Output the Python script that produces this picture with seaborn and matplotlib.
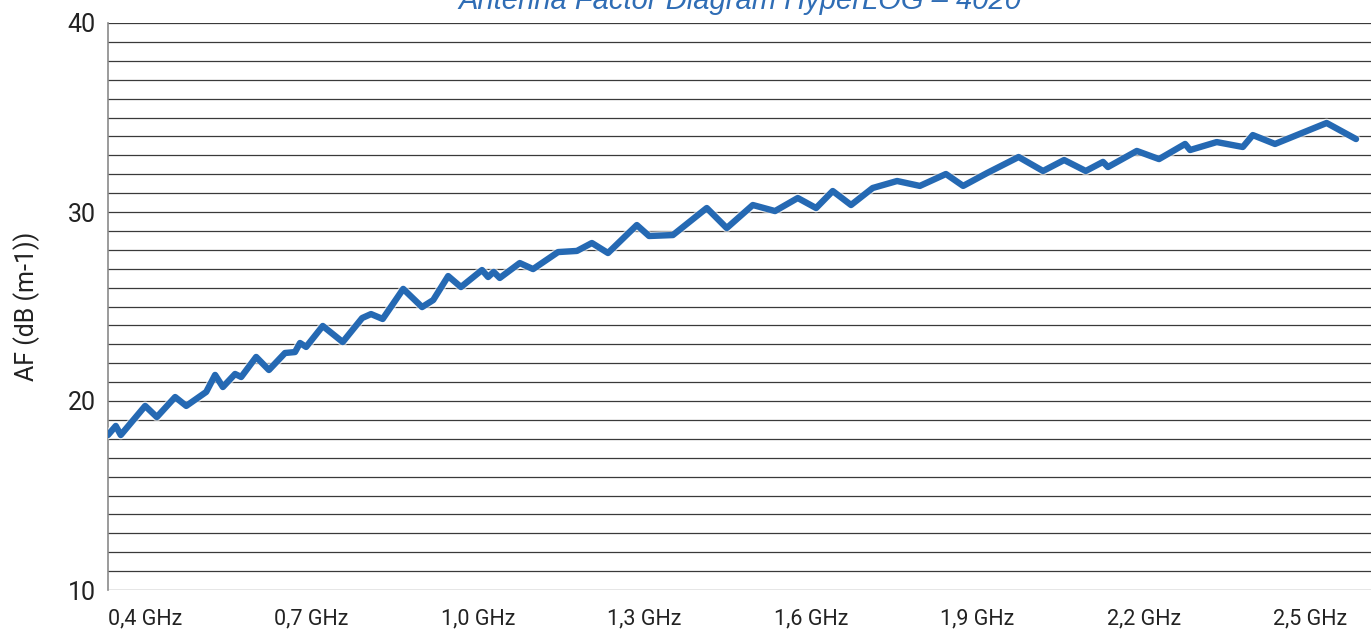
import numpy as np
import pandas as pd
import seaborn as sns
import matplotlib.pyplot as plt
import matplotlib.patheffects as pe

# --- data (frequency in GHz, AF in dB(1/m)) ---
freq_ghz = [0.400, 0.414, 0.423, 0.467, 0.488, 0.521, 0.541, 0.577, 0.593, 0.607,
            0.629, 0.640, 0.667, 0.690, 0.719, 0.737, 0.746, 0.757, 0.787, 0.823,
            0.858, 0.874, 0.895, 0.932, 0.966, 0.986, 1.013, 1.036, 1.074, 1.085,
            1.095, 1.106, 1.142, 1.166, 1.211, 1.245, 1.272, 1.301, 1.353, 1.375,
            1.418, 1.479, 1.515, 1.562, 1.602, 1.643, 1.676, 1.706, 1.739, 1.778,
            1.822, 1.863, 1.910, 1.941, 1.984, 2.041, 2.085, 2.123, 2.162, 2.193,
            2.202, 2.254, 2.294, 2.341, 2.350, 2.398, 2.445, 2.463, 2.503, 2.596,
            2.649]
af_db = [18.20, 18.68, 18.20, 19.74, 19.15, 20.21, 19.74, 20.48, 21.38, 20.74,
         21.43, 21.27, 22.33, 21.64, 22.54, 22.59, 23.07, 22.86, 23.97, 23.12,
         24.39, 24.60, 24.34, 25.93, 24.97, 25.34, 26.61, 26.03, 26.93, 26.56,
         26.83, 26.51, 27.30, 26.98, 27.88, 27.94, 28.36, 27.83, 29.31, 28.73,
         28.78, 30.21, 29.15, 30.37, 30.05, 30.74, 30.21, 31.11, 30.37, 31.27,
         31.64, 31.38, 32.01, 31.38, 32.06, 32.91, 32.17, 32.75, 32.17, 32.65,
         32.38, 33.23, 32.80, 33.60, 33.28, 33.70, 33.44, 34.07, 33.60, 34.71,
         33.86]

x_ticks = [0.4, 0.7, 1.0, 1.3, 1.6, 1.9, 2.2, 2.5]
x_labels = ["0,4 GHz", "0,7 GHz", "1,0 GHz", "1,3 GHz",
            "1,6 GHz", "1,9 GHz", "2,2 GHz", "2,5 GHz"]
y_ticks = [10, 20, 30, 40]

df = pd.DataFrame({"freq": freq_ghz, "af": af_db})

sns.set_style("white")
plt.rcParams["font.family"] = ["Roboto", "DejaVu Sans"]

fig = plt.figure(figsize=(13.71, 6.30), dpi=100)
ax = fig.add_axes([108 / 1371, 40 / 630, 1 - 108 / 1371, 567 / 630])

sns.lineplot(data=df, x="freq", y="af", ax=ax, color="#2569b3", linewidth=4.6,
             solid_joinstyle="round", solid_capstyle="round", zorder=3,
             path_effects=[pe.Stroke(linewidth=6.5, foreground="white", alpha=0.6),
                           pe.Normal()])

ax.set_xlim(0.4, 2.676)
ax.set_ylim(10, 40)

# grid every 1 dB
ax.set_yticks(y_ticks)
ax.set_yticks(np.arange(10, 41, 1), minor=True)
ax.grid(which="both", axis="y", color="#3a3a3a", linewidth=0.9)
ax.grid(False, axis="x")
ax.tick_params(axis="y", which="both", length=0, labelsize=18, colors="#222222", pad=9)

ax.set_xticks(x_ticks)
ax.set_xticklabels(x_labels, ha="left")
ax.tick_params(axis="x", length=0, labelsize=15.5, colors="#222222", pad=13)

for s in ["top", "right", "bottom"]:
    ax.spines[s].set_visible(False)
ax.spines["left"].set_color("#8a8a8a")
ax.spines["left"].set_linewidth(1.2)

ax.set_xlabel("")
ax.set_ylabel("AF (dB (m-1))", fontsize=18, color="#222222", labelpad=20)

fig.text(740 / 1371, 1 - 9 / 630, "Antenna Factor Diagram HyperLOG – 4020",
         ha="center", va="baseline", fontsize=21, style="italic",
         color="#2f6db5", family=["Liberation Sans", "DejaVu Sans"])

fig.savefig("out.png", dpi=100)
